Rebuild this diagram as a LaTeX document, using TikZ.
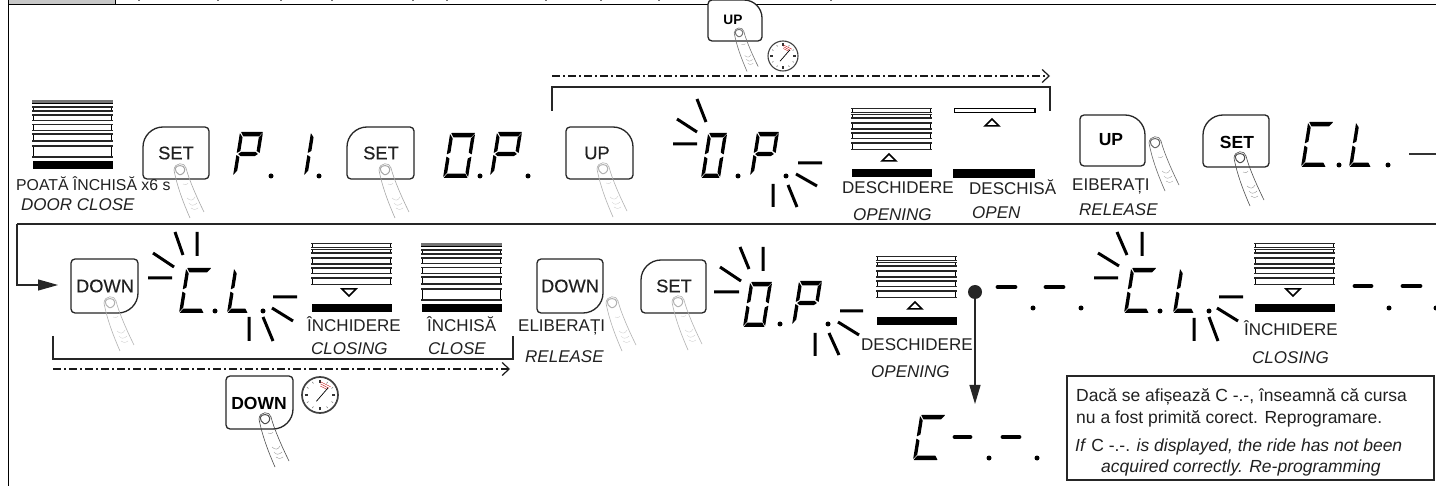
\documentclass[tikz,border=0pt]{standalone}
\usepackage{fontspec}
\setmainfont{Liberation Sans}
\newfontfamily\medf[FakeBold=0.3]{Liberation Sans}
\usetikzlibrary{arrows.meta}
\definecolor{ink}{gray}{0.13}
\tikzset{
  lab/.style={anchor=base west,inner sep=0pt,text=ink,font=\fontsize{17}{20}\selectfont},
  labi/.style={lab,font=\fontsize{17}{20}\selectfont\itshape},
  boxt/.style={anchor=base west,inner sep=0pt,text=ink,font=\fontsize{17.5}{20}\selectfont},
  btnm/.style={inner sep=0pt,text=ink,font=\medf\fontsize{18.3}{20}\selectfont},
  btnb/.style={inner sep=0pt,text=black,font=\fontsize{17.5}{20}\selectfont\bfseries},
  frameline/.style={draw=black,line width=1pt},
  rowline/.style={draw=black!85,line width=1.5pt},
  brk/.style={draw=black!85,line width=1.4pt},
  dashdot/.style={draw=black!90,line width=1.5pt,dash pattern=on 8pt off 3pt on 2pt off 3pt,-{Straight Barb[length=7pt,width=13pt,line width=1.2pt]}},
  btn/.style={draw=black!85,fill=white,line width=1.3pt},
  ray/.style={draw=black,line width=3pt},
  thickdash/.style={draw=black,line width=4.8pt,line cap=round},
  seg/.style={fill=black,rounded corners=0.4pt},
  slat/.style={draw=black,line width=1.8pt,fill=white},
  slatedge/.style={draw=black!85,line width=1.7pt},
  arrowtri/.style={draw=black,line width=1.5pt,fill=white,line join=miter},
}
\newcommand{\Dotp}[2]{\fill[black] (#1,#2) circle (2.5);}
\def\st{4.4}
\def\sv{3.4}
% seven segment glyph: x0, base, W, H, list of segments
\newcommand{\SegA}{\fill[seg] (1,-\sh) -- (\sw,-\sh) -- ({\sw-\sv},{-\sh+\st}) -- ({\sv+.5},{-\sh+\st}) -- cycle;}
\newcommand{\SegD}{\fill[seg] (0.5,0) -- ({\sw-.5},0) -- ({\sw-\sv},-\st) -- ({\sv+.2},-\st) -- cycle;}
\newcommand{\SegG}{\fill[seg] (1.5,{-\sh/2}) -- (4.5,{-\sh/2-2.2}) -- ({\sw-4.5},{-\sh/2-2.2}) -- ({\sw-1.5},{-\sh/2}) -- ({\sw-4.5},{-\sh/2+2.2}) -- (4.5,{-\sh/2+2.2}) -- cycle;}
\newcommand{\SegF}{\fill[seg] (0,{-\sh/2-1}) -- (0,{-\sh+1}) -- (\sv,{-\sh+\st+1}) -- (\sv,{-\sh/2-3}) -- cycle;}
\newcommand{\SegE}{\fill[seg] (0,{-\sh/2+1}) -- (\sv,{-\sh/2+3}) -- (\sv,{-\st-1}) -- (0,-1) -- cycle;}
\newcommand{\SegB}{\fill[seg] (\sw,{-\sh+1}) -- (\sw,{-\sh/2-1}) -- ({\sw-\sv},{-\sh/2-3}) -- ({\sw-\sv},{-\sh+\st+1}) -- cycle;}
\newcommand{\SegC}{\fill[seg] (\sw,{-\sh/2+1}) -- (\sw,-1) -- ({\sw-\sv},{-\st-1}) -- ({\sw-\sv},{-\sh/2+3}) -- cycle;}
\newcommand{\Glyph}[5]{\begin{scope}[shift={(#1,#2)},xslant=0.16]\def\sw{#3}\def\sh{#4}\foreach \q in {#5}{\csname Seg\q\endcsname}\end{scope}}
\newcommand{\GP}[3]{\Glyph{#1}{#2}{#3}{44}{A,B,G,E,F}}
\newcommand{\GO}[3]{\Glyph{#1}{#2}{#3}{45}{A,B,C,D,E,F}}
\newcommand{\GC}[3]{\Glyph{#1}{#2}{#3}{45}{A,D,E,F}}
\newcommand{\GL}[3]{\Glyph{#1}{#2}{#3}{45}{D,E,F}}
% button: x1,y1,x2,y2, radii TL,TR,BR,BL
\newcommand{\BtnShape}[8]{\draw[btn] ({#1+#5},#2) -- ({#3-#6},#2) .. controls ({#3-.45*#6},#2) and (#3,{#2+.45*#6}) .. (#3,{#2+#6}) -- (#3,{#4-#7}) .. controls (#3,{#4-.45*#7}) and ({#3-.45*#7},#4) .. ({#3-#7},#4) -- ({#1+#8},#4) .. controls ({#1+.45*#8},#4) and (#1,{#4-.45*#8}) .. (#1,{#4-#8}) -- (#1,{#2+#5}) .. controls (#1,{#2+.45*#5}) and ({#1+.45*#5},#2) .. ({#1+#5},#2) -- cycle;}
% finger: x,y,scale,colour
\newcommand{\Finger}[4]{\begin{scope}[shift={(#1,#2)},scale=#3,draw=#4,line width=0.6pt]
  \draw (-6,0) .. controls (-3,16) and (3,32) .. (10,48);
  \draw (6,-2) .. controls (9,10) and (18,30) .. (24,42);
  \draw (-6,0) .. controls (-5.5,-8) and (5,-8) .. (6,-2);
  \draw[line width=1pt] (-4.8,-1.5) .. controls (-3.5,-5.5) and (4,-5.5) .. (4.8,-1) .. controls (5,3) and (1,5.5) .. (-1,4.5) .. controls (-3,3.5) and (-5,1) .. (-4.8,-1.5);
  \begin{scope}[opacity=0.7]
  \draw[line width=0.3pt] (3,14) .. controls (5,15) and (6,15) .. (8,13.5);
  \draw[line width=0.3pt] (7,28) .. controls (10,31) and (13,31) .. (15,27);
  \draw[line width=0.3pt] (9,33) .. controls (11,36) and (14,36) .. (17,33);
  \draw[line width=0.3pt] (11,38) .. controls (13,40) and (15,40) .. (18,38);
  \end{scope}
\end{scope}}
% clock: x,y,r,line width
\newcommand{\Clock}[4]{\begin{scope}[shift={(#1,#2)}]
  \draw[draw=black!75,fill=white,line width=#4pt] (0,0) circle (#3);
  \foreach \a in {0,90,180,270}{\draw[black!80,line width=1.2pt] ({.86*#3*cos(\a)},{-.86*#3*sin(\a)}) -- ({.68*#3*cos(\a)},{-.68*#3*sin(\a)});}
  \foreach \a in {30,60,120,150,210,240,300,330}{\draw[black!60,line width=0.5pt] ({.84*#3*cos(\a)},{-.84*#3*sin(\a)}) -- ({.74*#3*cos(\a)},{-.74*#3*sin(\a)});}
  \foreach \k in {.5,.62,.74}{\draw[red!75!black,line width=0.35pt] ({\k*#3*cos(88)},{-\k*#3*sin(88)}) -- ({\k*#3*cos(38)},{-\k*#3*sin(38)});}
  \draw[black,line width=0.7pt] ({-.2*#3},{.35*#3}) -- ({.45*#3},{-.4*#3});
\end{scope}}
% door parts
\newcommand{\Slat}[3]{\draw[slat] ({#1+1.5},{#2}) rectangle ({#1+79.5},{#3});\draw[slatedge] (#1,{#2}) -- ({#1+81},{#2}) (#1,{#3}) -- ({#1+81},{#3});}
\newcommand{\Bar}[2]{\fill[black] ({#1+0.5},{#2+61}) rectangle ({#1+80.5},{#2+69.5});}
\newcommand{\DoorClosed}[2]{\fill[black!55] (#1,#2) rectangle ({#1+81},{#2+3});\draw[black,line width=1pt] (#1,{#2+3.5}) -- ({#1+81},{#2+3.5});
  \Slat{#1}{#2+7}{#2+11}\Slat{#1}{#2+15}{#2+20.5}\Slat{#1}{#2+24.5}{#2+30.5}\Slat{#1}{#2+34}{#2+41}\Slat{#1}{#2+46}{#2+57}\Bar{#1}{#2}}
\newcommand{\DoorPart}[2]{\Slat{#1}{#2+0.5}{#2+4.5}\Slat{#1}{#2+6.5}{#2+10}\Slat{#1}{#2+15}{#2+21}\Slat{#1}{#2+25}{#2+30.5}\Slat{#1}{#2+35}{#2+41.5}\Bar{#1}{#2}}
\newcommand{\TriUp}[2]{\draw[arrowtri] (#1,#2) -- ({#1+7},{#2+7}) -- ({#1-7},{#2+7}) -- cycle;}
\newcommand{\TriDown}[2]{\draw[arrowtri] (#1,{#2+7}) -- ({#1+7},#2) -- ({#1-7},#2) -- cycle;}
\begin{document}
\begin{tikzpicture}[x=1pt,y=-1pt]
\useasboundingbox (0,0) rectangle (1436,486);
\fill[white] (0,0) rectangle (1436,486);
% frame
\fill[black!22] (8,0) rectangle (115,5);
\draw[frameline] (8,0) -- (8,486);
\draw[frameline] (115,0) -- (115,5);
\draw[frameline] (8,5) -- (1436,5);
\foreach \t in {138,217,280,331,412,446,545,600,658,830}{\fill[black!55] (\t,0) rectangle ({\t+2},1.3);}
% row separator and feed
\coordinate (sepR) at (1436,224);
\coordinate (sepL) at (17,224);
\coordinate (feed) at (58,285);
\draw[rowline] (sepR) -- (sepL);
\draw[draw=black!85,line width=1.2pt,-{Triangle[length=20pt,width=11pt]}] (sepL) |- (feed);
% brackets and timed arrows
\coordinate (b1a) at (552,111); \coordinate (b1b) at (552,87); \coordinate (b1c) at (1050,87); \coordinate (b1d) at (1050,111);
\draw[brk] (b1a) -- (b1b) -- (b1c) -- (b1d);
\coordinate (t1a) at (552,76); \coordinate (t1b) at (1050,76);
\draw[dashdot] (t1a) -- (t1b);
\coordinate (b2a) at (53,336); \coordinate (b2b) at (53,359); \coordinate (b2c) at (513,359); \coordinate (b2d) at (513,336);
\draw[brk] (b2a) -- (b2b) -- (b2c) -- (b2d);
\coordinate (t2a) at (53,369); \coordinate (t2b) at (510,369);
\draw[dashdot] (t2a) -- (t2b);
% ROW 1
\DoorClosed{32}{100}
\node[lab,font=\fontsize{15.8}{20}\selectfont] (n1) at (16,191) {POATĂ ÎNCHISĂ x6 s};
\node[labi] (n2) at (21,211) {DOOR CLOSE};
\BtnShape{143}{127}{209}{179}{20}{4}{4}{4}
\node[btnm] (k1) at (176,153) {SET};
\Finger{180}{170}{1}{black!35}
\GP{233}{176}{23}\Dotp{271}{176}
\Glyph{304}{176}{3.4}{44}{E,F}\Dotp{319}{176}
\BtnShape{347}{127}{414}{179}{20}{4}{4}{4}
\node[btnm] (k2) at (381,153) {SET};
\Finger{385}{170}{1}{black!35}
\GO{443}{178}{25}\Dotp{480}{176}
\GP{490}{176}{25}\Dotp{528}{176}
\BtnShape{566}{127}{633}{179}{4}{20}{4}{4}
\node[btnm] (k3) at (597,153) {UP};
\Finger{603}{169}{1}{black!30}
\BtnShape{708}{0}{762}{41}{4}{18}{4}{4}
\node[btnb,font=\fontsize{13.7}{16}\selectfont\bfseries] (k4) at (733,20) {UP};
\Finger{739}{33}{0.8}{black!55}
\Clock{783}{56}{15}{1.1}
% blink O.P row 1
\draw[ray] (697,99) -- (706,122) (677,119) -- (697,132) (673,144) -- (697,144);
\GO{701}{178}{19}\Dotp{738}{176}
\GP{750}{176}{22}\Dotp{786}{176}
\draw[ray] (798,163) -- (822,163) (796,174) -- (817,186) (788,185) -- (797,207) (773,184) -- (773,207);
\DoorPart{851}{108}
\TriUp{889}{154}
\node[lab] (n3) at (842,194) {DESCHIDERE};
\node[labi] (n4) at (853,221) {OPENING};
% open door
\draw[slat] (954.5,108.5) rectangle (1035,112.5);
\fill[black] (953,169) rectangle (1035,178);
\TriUp{992}{119}
\node[lab] (n5) at (969,195) {DESCHISĂ};
\node[labi] (n6) at (972,219) {OPEN};
\BtnShape{1080}{115}{1145}{166}{4}{20}{4}{4}
\node[btnb] (k5) at (1111,140) {UP};
\Finger{1155}{143}{1}{black!60}
\node[lab] (n7) at (1072,191) {EIBERAȚI};
\node[labi] (n8) at (1079,216) {RELEASE};
\BtnShape{1203}{115}{1269}{167}{20}{4}{4}{4}
\node[btnb] (k6) at (1237,142) {SET};
\Finger{1240}{158}{1}{black!70}
\GC{1301}{167}{25}\Dotp{1339}{165}
\GL{1349}{167}{22}\Dotp{1388}{165}
\draw[draw=black!80,line width=1.3pt] (1409,154) -- (1436,154);
% ROW 2
\BtnShape{71}{259}{138}{313}{4}{4}{20}{4}
\node[btnm] (k7) at (105,286) {DOWN};
\Finger{110}{303}{1}{black!30}
\draw[ray] (175,232) -- (183,255) (197,232) -- (197,256) (153,253) -- (174,267) (148,278) -- (172,278);
\GC{179}{313}{25}\Dotp{215}{311}
\GL{227}{313}{21}\Dotp{263}{311}
\draw[ray] (273,297) -- (297,297) (272,308) -- (293,321) (263,317) -- (273,341) (249,317) -- (249,341);
\DoorPart{311}{243}
\TriDown{349}{289}
\node[lab] (n9) at (307,332) {ÎNCHIDERE};
\node[labi] (n10) at (311,355) {CLOSING};
\DoorClosed{421}{243}
\node[lab] (n11) at (427,332) {ÎNCHISĂ};
\node[labi] (n12) at (428,355) {CLOSE};
\BtnShape{226}{376}{293}{429}{4}{4}{20}{4}
\node[btnb] (k8) at (259,403) {DOWN};
\Finger{265}{419}{1}{black!70}
\Clock{320}{395}{18}{1.7}
\BtnShape{537}{259}{603}{313}{4}{4}{20}{4}
\node[btnm] (k9) at (570,286) {DOWN};
\Finger{612}{303}{1}{black!30}
\node[lab] (n13) at (518,332) {ELIBERAȚI};
\node[labi] (n14) at (525,363) {RELEASE};
\BtnShape{641}{260}{706}{313}{20}{4}{4}{4}
\node[btnm] (k10) at (674,286) {SET};
\Finger{678}{302}{1}{black!30}
\draw[ray] (740,247) -- (749,269) (763,247) -- (763,271) (720,267) -- (741,281) (714,292) -- (739,292);
\GO{743}{327}{22}\Dotp{780}{324}
\GP{792}{325}{23}\Dotp{828}{324}
\draw[ray] (840,311) -- (863,311) (838,322) -- (859,335) (829,333) -- (839,355) (815,333) -- (815,356);
\DoorPart{876}{256}
\TriUp{915}{302}
\node[lab] (n15) at (861,351) {DESCHIDERE};
\node[labi] (n16) at (871,378) {OPENING};
% fork
\node[circle,fill=black!85,inner sep=0pt,minimum size=14pt] (fork) at (975,292) {};
\coordinate (err) at (975,404);
\draw[draw=black!85,line width=1.2pt,-{Triangle[length=19pt,width=11pt]}] (fork) -- (err);
\draw[thickdash] (998,287) -- (1015,287) (1046,287) -- (1063,287);
\Dotp{1033}{308}\Dotp{1081}{308}
\draw[ray] (1117,232) -- (1127,255) (1142,232) -- (1142,256) (1098,253) -- (1119,266) (1094,278) -- (1118,278);
\GC{1124}{313}{25}\Dotp{1160}{311}
\GL{1173}{313}{21}\Dotp{1209}{311}
\draw[ray] (1219,297) -- (1243,297) (1217,308) -- (1238,321) (1209,317) -- (1218,341) (1194,318) -- (1194,341);
\DoorPart{1254}{243}
\TriDown{1293}{289}
\node[lab] (n17) at (1244,336) {ÎNCHIDERE};
\node[labi] (n18) at (1252,364) {CLOSING};
\draw[thickdash] (1355,286) -- (1371,286) (1403,286) -- (1420,286);
\Dotp{1389}{308}\Dotp{1436}{308}
% error display
\GC{913}{460}{25}
\draw[thickdash] (955,437) -- (970,437) (1003,437) -- (1019,437);
\Dotp{989}{458}\Dotp{1037}{458}
% note box
\draw[draw=black!85,line width=1.7pt] (1067,376) rectangle (1434,480);
\node[boxt] (m1) at (1076,402) {Dacă se afișează C -.-, înseamnă că cursa};
\node[boxt] (m2) at (1076,424) {nu a fost primită corect. Reprogramare.};
\node[boxt] (m3) at (1075,451) {\textit{If} C -.-. \textit{is displayed, the ride has not been}};
\node[boxt] (m4) at (1101,472) {\textit{acquired correctly. Re-programming}};
\end{tikzpicture}
\end{document}
